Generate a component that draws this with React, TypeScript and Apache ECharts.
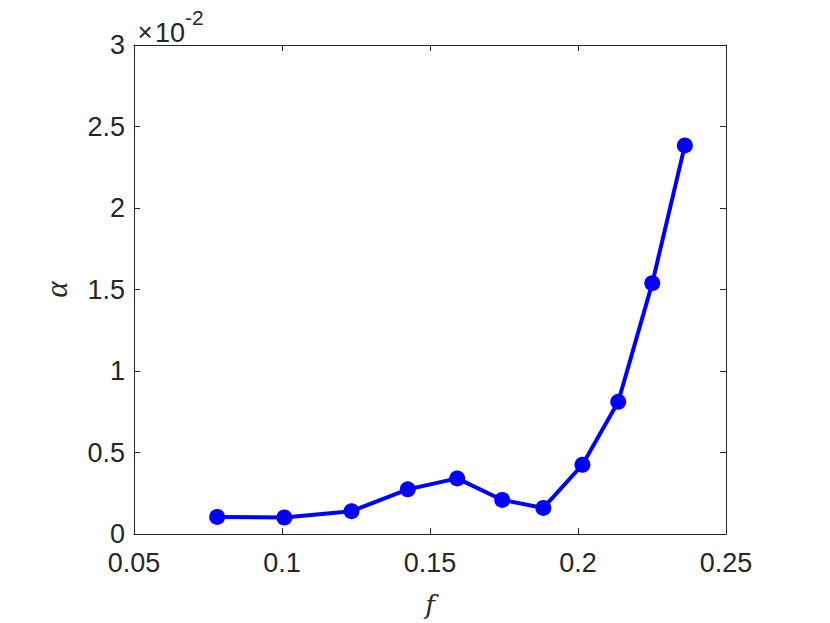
import React, { useEffect, useRef } from "react";
import * as echarts from "echarts";

const fValues = [0.0781, 0.1008, 0.1235, 0.1425, 0.1592, 0.1744, 0.1883, 0.2015, 0.2136, 0.2251, 0.2361];
const alphaValues = [0.105, 0.101, 0.14, 0.274, 0.341, 0.209, 0.16, 0.425, 0.811, 1.539, 2.384]; // ×10^-2
const xTicks = { min: 0.05, max: 0.25, interval: 0.05 };
const yTicks = { min: 0, max: 3, interval: 0.5 };
const exponentLabel = { times: "×", base: "10", power: "-2" };

export default function App() {
  const ref = useRef<HTMLDivElement>(null);
  useEffect(() => {
    if (!ref.current) return;
    const chart = echarts.init(ref.current, null, { renderer: "svg" });
    const axisColor = "#262626";
    const font = "'Liberation Sans', Arial, Helvetica, sans-serif";
    const common = {
      axisLine: { show: true, onZero: false, lineStyle: { color: axisColor, width: 1 } },
      axisTick: { show: true, inside: true, length: 6, lineStyle: { color: axisColor, width: 1 } },
      splitLine: { show: false },
    };
    chart.setOption({
      animation: false,
      backgroundColor: "#ffffff",
      grid: { left: 134, right: 104, top: 45, bottom: 85, containLabel: false },
      xAxis: [
        {
          type: "value",
          position: "bottom",
          ...xTicks,
          ...common,
          axisLabel: {
            color: axisColor,
            fontSize: 27,
            fontFamily: font,
            margin: 15,
            formatter: (v: number) => String(Math.round(v * 100) / 100),
          },
          name: "f",
          nameLocation: "middle",
          nameGap: 58,
          nameTextStyle: { fontFamily: "'DejaVu Serif', 'Liberation Serif', serif", fontStyle: "italic", fontSize: 26, color: axisColor },
        },
        {
          type: "value",
          position: "top",
          ...xTicks,
          ...common,
          axisLabel: { show: false },
        },
      ],
      yAxis: [
        {
          type: "value",
          position: "left",
          ...yTicks,
          ...common,
          axisLabel: {
            color: axisColor,
            fontSize: 27,
            fontFamily: font,
            margin: 9,
            formatter: (v: number) => String(v),
          },
          name: "α",
          nameLocation: "middle",
          nameGap: 62,
          nameRotate: 90,
          nameTextStyle: { fontFamily: "'Liberation Serif', 'DejaVu Serif', serif", fontStyle: "italic", fontSize: 31, color: axisColor },
        },
        {
          type: "value",
          position: "right",
          ...yTicks,
          ...common,
          axisLabel: { show: false },
        },
      ],
      graphic: [
        {
          type: "text",
          x: 145,
          y: 32,
          style: { text: exponentLabel.times, fontSize: 26, fontFamily: font, fill: axisColor, align: "center", verticalAlign: "middle" },
        },
        {
          type: "text",
          x: 155,
          y: 33,
          style: { text: exponentLabel.base, fontSize: 27, fontFamily: font, fill: axisColor, align: "left", verticalAlign: "middle" },
        },
        {
          type: "text",
          x: 185,
          y: 17,
          style: { text: exponentLabel.power, fontSize: 21, fontFamily: font, fill: axisColor, align: "left", verticalAlign: "middle" },
        },
      ],
      series: [
        {
          type: "line",
          xAxisIndex: 0,
          yAxisIndex: 0,
          data: fValues.map((f, i) => [f, alphaValues[i]]),
          lineStyle: { color: "#0000ff", width: 4 },
          itemStyle: { color: "#0000ff" },
          symbol: "circle",
          symbolSize: 16,
        },
      ],
    });
    return () => chart.dispose();
  }, []);
  return <div ref={ref} style={{ position: "absolute", left: 0, top: 0, width: 830, height: 623 }} />;
}
